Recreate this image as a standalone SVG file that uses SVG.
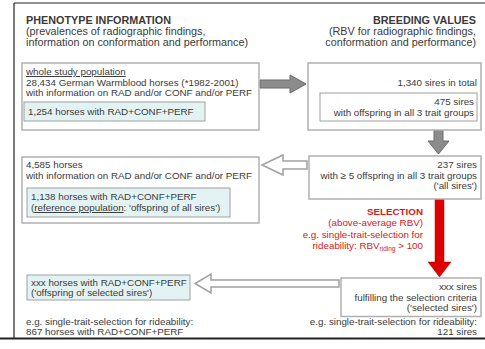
<svg xmlns="http://www.w3.org/2000/svg" width="485" height="349" viewBox="0 0 485 349">
<style>
text{font-family:"Liberation Sans",Arial,sans-serif;font-size:9.8px;fill:#3a3a3a}
.h{font-size:10.8px}
.b{font-weight:bold}
.r{text-anchor:end}
.red{fill:#d81818}
.box{fill:#fff;stroke:#b0b0b0;stroke-width:1.5}
.inner{fill:#fff;stroke:#a0a0a0;stroke-width:1}
.cyan{fill:#e3f3f3;stroke:#a0a0a0;stroke-width:1}
.u{text-decoration:underline}
</style>
<rect width="485" height="349" fill="#fff"/>
<g id="frame" stroke="#222" fill="none">
<line x1="14" y1="3" x2="485" y2="3" stroke-width="1.2"/>
<line x1="14" y1="3" x2="14" y2="338" stroke-width="1.2"/>
<line x1="0" y1="338.5" x2="485" y2="338.5" stroke-width="2"/>
</g>
<g id="header-phenotype">
<text x="26" y="24" class="h b">PHENOTYPE INFORMATION</text>
<text x="26" y="35" class="h">(prevalences of radiographic findings,</text>
<text x="26" y="46" class="h">information on conformation and performance)</text>
</g>
<g id="header-breeding">
<text x="476" y="24" class="h b r">BREEDING VALUES</text>
<text x="476" y="35" class="h r">(RBV for radiographic findings,</text>
<text x="476" y="46" class="h r">conformation and performance)</text>
</g>
<g id="connectors">
<polygon points="260,80 290,80 290,75 306,84 290,93 290,88 260,88" fill="#8c8c8c" stroke="#6a6a6a" stroke-width="1"/>
<polygon points="434,130 443,130 443,141 449,141 438.5,154 428,141 434,141" fill="#8c8c8c" stroke="#6a6a6a" stroke-width="1"/>
<polygon points="307,161 283,161 283,155 262,165 283,175 283,169 307,169" fill="#fff" stroke="#a0a0a0" stroke-width="1.5"/>
<polygon points="435,199 444,199 444,262 451,262 439.5,277 428,262 435,262" fill="#dd0000" stroke="#c00000" stroke-width="0.5"/>
<polygon points="339,280 211,280 211,274 195,283.5 211,293 211,287 339,287" fill="#fff" stroke="#a0a0a0" stroke-width="1.5"/>
</g>
<g id="whole-population">
<rect x="22" y="63" width="237" height="67" class="box"/>
<text x="26" y="75" class="u">whole study population</text>
<text x="26" y="85.5">28,434 German Warmblood horses (*1982-2001)</text>
<text x="26" y="96">with information on RAD and/or CONF and/or PERF</text>
<rect x="24" y="102" width="181" height="19" class="cyan"/>
<text x="28" y="115">1,254 horses with RAD+CONF+PERF</text>
</g>
<g id="sires-total">
<rect x="308" y="63" width="173" height="67" class="box"/>
<text x="477" y="86" class="r">1,340 sires in total</text>
<rect x="320" y="93" width="157" height="28" class="inner"/>
<text x="474" y="105" class="r">475 sires</text>
<text x="474" y="116" class="r">with offspring in all 3 trait groups</text>
</g>
<g id="all-sires">
<rect x="309" y="156" width="172" height="43" class="box"/>
<text x="477" y="168" class="r">237 sires</text>
<text x="477" y="178.5" class="r">with ≥ 5 offspring in all 3 trait groups</text>
<text x="477" y="189" class="r">('all sires')</text>
</g>
<g id="reference-population">
<rect x="22" y="157" width="237" height="66" class="box"/>
<text x="26" y="168">4,585 horses</text>
<text x="26" y="178.5">with information on RAD and/or CONF and/or PERF</text>
<rect x="27" y="188" width="203" height="29" class="cyan"/>
<text x="31" y="200">1,138 horses with RAD+CONF+PERF</text>
<text x="31" y="211">(<tspan class="u">reference population</tspan>: 'offspring of all sires')</text>
</g>
<g id="selection">
<text x="423" y="215" class="b r red">SELECTION</text>
<text x="423" y="226" class="r red">(above-average RBV)</text>
<text x="423" y="238" class="r red">e.g. single-trait-selection for</text>
<text x="423" y="249" class="r red">rideability: RBV<tspan font-size="6.5" dy="2">riding</tspan><tspan dy="-2"> &gt; 100</tspan></text>
</g>
<g id="selected-sires">
<rect x="341" y="278" width="140" height="38.5" class="box"/>
<text x="477" y="290" class="r">xxx sires</text>
<text x="477" y="300.5" class="r">fulfilling the selection criteria</text>
<text x="477" y="311" class="r">('selected sires')</text>
<text x="477" y="325" class="r">e.g. single-trait-selection for rideability:</text>
<text x="477" y="334.5" class="r">121 sires</text>
</g>
<g id="offspring-selected">
<rect x="27" y="275" width="163" height="25" class="cyan"/>
<text x="31" y="285.5">xxx horses with RAD+CONF+PERF</text>
<text x="31" y="296">('offspring of selected sires')</text>
<text x="26" y="325">e.g. single-trait-selection for rideability:</text>
<text x="26" y="334.5">867 horses with RAD+CONF+PERF</text>
</g>
</svg>
